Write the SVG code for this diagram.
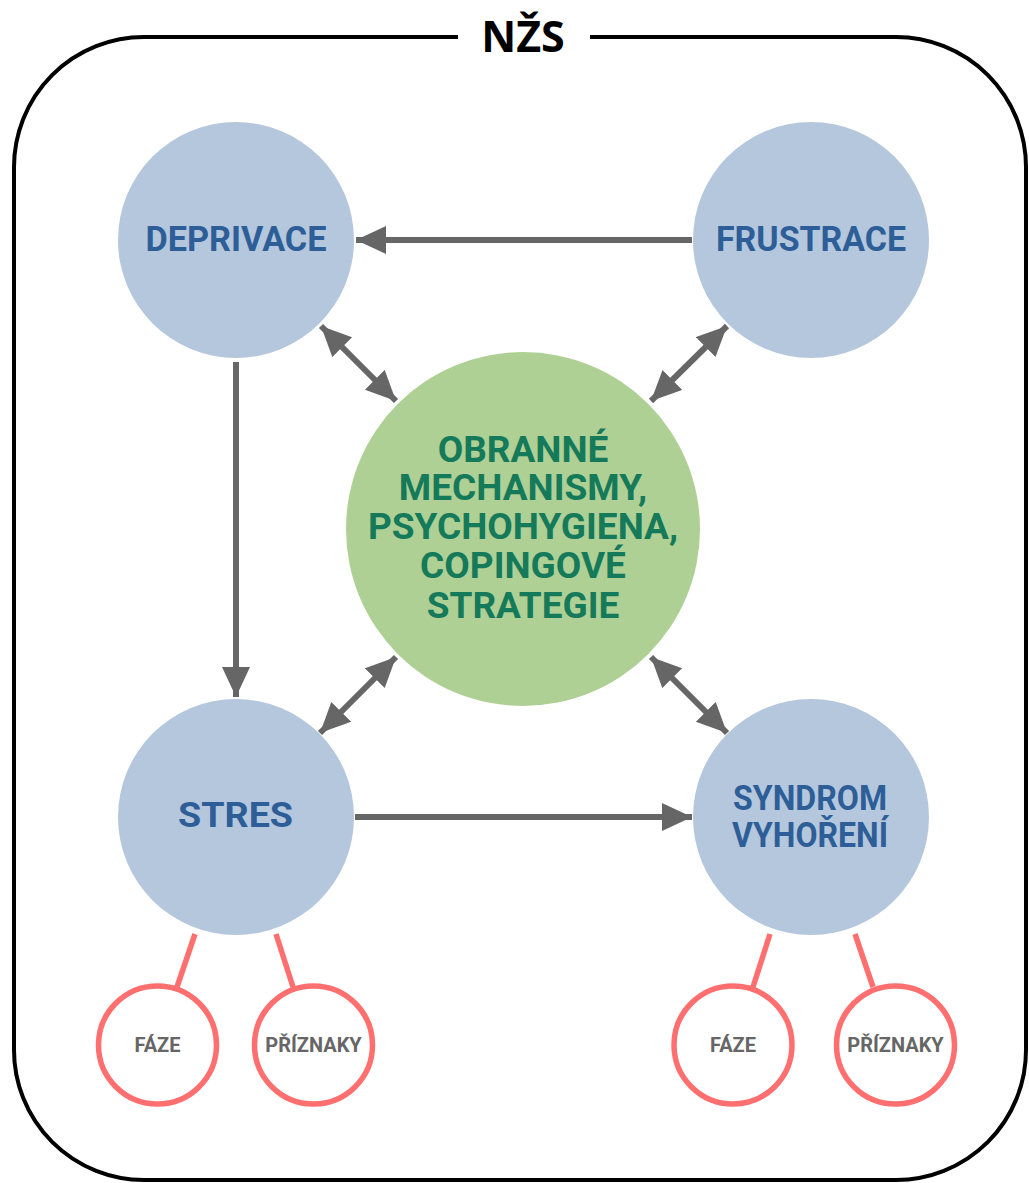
<svg xmlns="http://www.w3.org/2000/svg" width="1029" height="1183" viewBox="0 0 1029 1183">
<defs>
<style>
.frame{fill:none;stroke:#000;stroke-width:4}
.blue{fill:#b4c7dd}
.green{fill:#afd095}
.bt{font-family:Roboto,"Liberation Sans",sans-serif;font-weight:bold;fill:#2e5e98;text-anchor:middle;font-size:35px}
.gt{font-family:Roboto,"Liberation Sans",sans-serif;font-weight:bold;fill:#157a5a;text-anchor:middle;font-size:37px}
.small{fill:#fff;stroke:#ff6f6f;stroke-width:5.5}
.st{font-family:Roboto,"Liberation Sans",sans-serif;font-weight:bold;fill:#666;text-anchor:middle;font-size:20px}
.arr{stroke:#666;stroke-width:6;fill:none}
.red{stroke:#ff6f6f;stroke-width:5.5}
</style>
<marker id="ah" markerUnits="userSpaceOnUse" markerWidth="32" markerHeight="30" refX="30" refY="14" orient="auto-start-reverse" viewBox="0 0 32 30">
<path d="M0,0 L30,14 L0,28 z" fill="#666"/>
</marker>
</defs>
<rect width="1029" height="1183" fill="#fff"/>
<g id="frame">
<rect class="frame" x="14" y="37" width="1012" height="1143" rx="130" ry="130"/>
<rect x="458" y="15" width="132" height="44" fill="#fff"/>
<text x="523" y="52" text-anchor="middle" font-family="'Open Sans',sans-serif" font-weight="bold" font-size="43" fill="#000">NŽS</text>
</g>
<g id="connectors">
<line class="arr" x1="692" y1="240" x2="356" y2="240" marker-end="url(#ah)"/>
<line class="arr" x1="236" y1="362" x2="236" y2="697" marker-end="url(#ah)"/>
<line class="arr" x1="355" y1="817" x2="692" y2="817" marker-end="url(#ah)"/>
<line class="arr" x1="321" y1="326" x2="396" y2="401" marker-start="url(#ah)" marker-end="url(#ah)"/>
<line class="arr" x1="727" y1="326" x2="651" y2="401" marker-start="url(#ah)" marker-end="url(#ah)"/>
<line class="arr" x1="396" y1="657" x2="320" y2="733" marker-start="url(#ah)" marker-end="url(#ah)"/>
<line class="arr" x1="651" y1="657" x2="727" y2="733" marker-start="url(#ah)" marker-end="url(#ah)"/>
<line class="red" x1="195" y1="934" x2="177" y2="987"/>
<line class="red" x1="276" y1="934" x2="293" y2="987"/>
<line class="red" x1="770" y1="934" x2="753" y2="987"/>
<line class="red" x1="855" y1="934" x2="873" y2="987"/>
</g>
<g id="deprivace">
<circle class="blue" cx="236" cy="240" r="118"/>
<text class="bt" x="236" y="251" textLength="181" lengthAdjust="spacingAndGlyphs">DEPRIVACE</text>
</g>
<g id="frustrace">
<circle class="blue" cx="811" cy="240" r="118"/>
<text class="bt" x="811" y="251" textLength="190" lengthAdjust="spacingAndGlyphs">FRUSTRACE</text>
</g>
<g id="stres">
<circle class="blue" cx="236" cy="817" r="118"/>
<text class="bt" x="235.5" y="827" font-size="40" textLength="115" lengthAdjust="spacingAndGlyphs">STRES</text>
</g>
<g id="syndrom">
<circle class="blue" cx="811" cy="817" r="118"/>
<text class="bt" x="810" y="810" textLength="154" lengthAdjust="spacingAndGlyphs">SYNDROM</text>
<text class="bt" x="810" y="847" textLength="156" lengthAdjust="spacingAndGlyphs">VYHOŘENÍ</text>
</g>
<g id="obranne">
<circle class="green" cx="523" cy="529" r="177"/>
<text class="gt"><tspan x="523" y="462">OBRANNÉ</tspan><tspan x="523" y="500">MECHANISMY,</tspan><tspan x="523" y="539">PSYCHOHYGIENA,</tspan><tspan x="523" y="578">COPINGOVÉ</tspan><tspan x="523" y="618">STRATEGIE</tspan></text>
</g>
<g id="faze1">
<circle class="small" cx="157.5" cy="1045" r="59"/>
<text class="st" x="157.5" y="1052">FÁZE</text>
</g>
<g id="priznaky1">
<circle class="small" cx="313.5" cy="1045" r="59"/>
<text class="st" x="313.5" y="1052">PŘÍZNAKY</text>
</g>
<g id="faze2">
<circle class="small" cx="733" cy="1045" r="59"/>
<text class="st" x="733" y="1052">FÁZE</text>
</g>
<g id="priznaky2">
<circle class="small" cx="895.5" cy="1045" r="59"/>
<text class="st" x="895.5" y="1052">PŘÍZNAKY</text>
</g>
</svg>
